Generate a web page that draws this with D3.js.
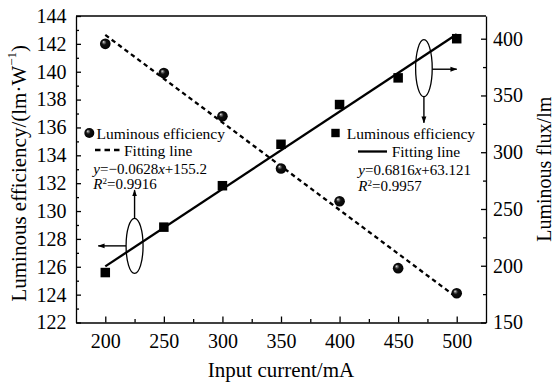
<!DOCTYPE html>
<html>
<head>
<meta charset="utf-8">
<script src="https://cdn.jsdelivr.net/npm/d3@7"></script>
<style>
  html, body { margin: 0; padding: 0; background: #fff; }
  svg { display: block; font-family: "Liberation Serif", "Times New Roman", serif; }
</style>
</head>
<body>
<script>
// Input current (mA) and the two measured series
const current = [200, 250, 300, 350, 400, 450, 500];
const efficiency = [142.0, 139.9, 136.8, 133.05, 130.7, 125.9, 124.1];   // lm·W⁻¹
const flux = [194, 234, 270.5, 307, 342, 365.5, 400];                    // lm

// Linear fits: [slope, intercept], R²
const effFit = [-0.0628, 155.2];
const effR2 = 0.9916;
const fluxFit = [0.6816, 63.121];
const fluxR2 = 0.9957;
const fitRange = [200, 500];

// Tick values
const xTicks = [200, 250, 300, 350, 400, 450, 500];
const xMinor = [225, 275, 325, 375, 425, 475];
const leftTicks = [122, 124, 126, 128, 130, 132, 134, 136, 138, 140, 142, 144];
const leftMinor = [123, 125, 127, 129, 131, 133, 135, 137, 139, 141, 143];
const rightTicks = [150, 200, 250, 300, 350, 400];
const rightMinor = [175, 225, 275, 325, 375];

const W = 557, H = 383;
const L = 76, R = 486, T = 16, B = 322.5;

const svg = d3.select("body").append("svg").attr("width", W).attr("height", H);

const x = d3.scaleLinear().domain([175, 525]).range([L, R]);
const yL = d3.scaleLinear().domain([122, 144]).range([B, T]);
const yR = d3.scaleLinear().domain([150, 420]).range([B, T]);

// shaded sphere marker
const defs = svg.append("defs");
const grad = defs.append("radialGradient").attr("id", "ball")
  .attr("cx", "50%").attr("cy", "50%").attr("r", "55%")
  .attr("fx", "33%").attr("fy", "30%");
grad.append("stop").attr("offset", "0%").attr("stop-color", "#ffffff");
grad.append("stop").attr("offset", "14%").attr("stop-color", "#888");
grad.append("stop").attr("offset", "40%").attr("stop-color", "#111");
grad.append("stop").attr("offset", "100%").attr("stop-color", "#000");

const arrow = defs.append("marker").attr("id", "arrow")
  .attr("viewBox", "0 0 10 10").attr("refX", 9).attr("refY", 5)
  .attr("markerWidth", 7).attr("markerHeight", 7)
  .attr("markerUnits", "userSpaceOnUse").attr("orient", "auto");
arrow.append("path").attr("d", "M0,1.5 L10,5 L0,8.5 Z").attr("fill", "#000");

const tickFont = "20px";
const axisStroke = 1.3;

function styleAxis(g) {
  g.selectAll("path.domain").attr("stroke", "#000").attr("stroke-width", axisStroke);
  g.selectAll(".tick line").attr("stroke", "#000").attr("stroke-width", axisStroke);
  g.selectAll(".tick text").attr("fill", "#000").style("font-size", tickFont)
    .style("font-family", '"Liberation Serif", "Times New Roman", serif');
}

// bottom axis
svg.append("g").attr("transform", `translate(0,${B})`)
  .call(d3.axisBottom(x).tickValues(xTicks).tickSizeInner(-6).tickSizeOuter(0).tickPadding(11))
  .call(styleAxis);
svg.append("g").attr("transform", `translate(0,${B})`)
  .call(d3.axisBottom(x).tickValues(xMinor).tickSizeInner(-3.5).tickSizeOuter(0).tickFormat(""))
  .call(g => g.select("path.domain").remove())
  .call(styleAxis);

// left axis
svg.append("g").attr("transform", `translate(${L},0)`)
  .call(d3.axisLeft(yL).tickValues(leftTicks).tickSizeInner(-5).tickSizeOuter(0).tickPadding(9.5))
  .call(styleAxis);
svg.append("g").attr("transform", `translate(${L},0)`)
  .call(d3.axisLeft(yL).tickValues(leftMinor).tickSizeInner(-3).tickSizeOuter(0).tickFormat(""))
  .call(g => g.select("path.domain").remove())
  .call(styleAxis);

// right axis
svg.append("g").attr("transform", `translate(${R},0)`)
  .call(d3.axisRight(yR).tickValues(rightTicks).tickSizeInner(-5).tickSizeOuter(0).tickPadding(7))
  .call(styleAxis);
svg.append("g").attr("transform", `translate(${R},0)`)
  .call(d3.axisRight(yR).tickValues(rightMinor).tickSizeInner(-3).tickSizeOuter(0).tickFormat(""))
  .call(g => g.select("path.domain").remove())
  .call(styleAxis);

// top frame line
svg.append("line").attr("x1", L).attr("x2", R).attr("y1", T).attr("y2", T)
  .attr("stroke", "#000").attr("stroke-width", axisStroke);

// axis titles
svg.append("text").attr("x", (L + R) / 2).attr("y", 377)
  .attr("text-anchor", "middle").style("font-size", "21px").text("Input current/mA");

const lt = svg.append("text")
  .attr("transform", `translate(19,${(T + B) / 2 + 4}) rotate(-90)`)
  .attr("text-anchor", "middle").attr("dominant-baseline", "central")
  .style("font-size", "21px");
lt.append("tspan").text("Luminous efficiency/(lm·W");
lt.append("tspan").attr("baseline-shift", "super").style("font-size", "13px").text("−1");
lt.append("tspan").text(")");

svg.append("text")
  .attr("transform", `translate(544,${(T + B) / 2}) rotate(-90)`)
  .attr("text-anchor", "middle").attr("dominant-baseline", "central")
  .style("font-size", "20px").text("Luminous flux/lm");

// fitting lines
const fitLine = (coef, ys) => d3.line()
  .x(d => x(d)).y(d => ys(coef[0] * d + coef[1]));

svg.append("path").datum(fitRange)
  .attr("d", fitLine(effFit, yL))
  .attr("fill", "none").attr("stroke", "#000").attr("stroke-width", 2.3)
  .attr("stroke-dasharray", "4.5,3.5");

svg.append("path").datum(fitRange)
  .attr("d", fitLine(fluxFit, yR))
  .attr("fill", "none").attr("stroke", "#000").attr("stroke-width", 2.3);

// data markers
const sq = 9.5;
svg.append("g").selectAll("rect").data(current).join("rect")
  .attr("x", (d) => x(d) - sq / 2)
  .attr("y", (d, i) => yR(flux[i]) - sq / 2)
  .attr("width", sq).attr("height", sq).attr("fill", "#000");

svg.append("g").selectAll("circle").data(current).join("circle")
  .attr("cx", d => x(d))
  .attr("cy", (d, i) => yL(efficiency[i]))
  .attr("r", 5.3).attr("fill", "url(#ball)");

// legends
const legFont = "15.5px";
function eqText(g, xPos, yPos, coef) {
  const t = g.append("text").attr("x", xPos).attr("y", yPos).style("font-size", "15px");
  t.append("tspan").style("font-style", "italic").text("y");
  const b = coef[1];
  const a = coef[0];
  t.append("tspan").text("=" + (a < 0 ? "−" + Math.abs(a) : a));
  t.append("tspan").style("font-style", "italic").text("x");
  t.append("tspan").text("+" + b);
}
function r2Text(g, xPos, yPos, r2) {
  const t = g.append("text").attr("x", xPos).attr("y", yPos).style("font-size", "15px");
  t.append("tspan").style("font-style", "italic").text("R");
  t.append("tspan").attr("baseline-shift", "super").style("font-size", "9px").text("2");
  t.append("tspan").text("=" + r2.toFixed(4));
}

// left legend (efficiency)
const lg = svg.append("g");
lg.append("circle").attr("cx", 89.3).attr("cy", 133).attr("r", 5).attr("fill", "url(#ball)");
lg.append("text").attr("x", 96.5).attr("y", 138.5).style("font-size", legFont).text("Luminous efficiency");
lg.append("line").attr("x1", 95).attr("x2", 121).attr("y1", 150).attr("y2", 150)
  .attr("stroke", "#000").attr("stroke-width", 2.3).attr("stroke-dasharray", "5.5,4");
lg.append("text").attr("x", 124).attr("y", 155.5).style("font-size", legFont).text("Fitting line");
eqText(lg, 93.3, 173.5, effFit);
r2Text(lg, 93.3, 188.5, effR2);

// right legend (flux)
const rg = svg.append("g");
rg.append("rect").attr("x", 335.5 - 4.2).attr("y", 133 - 4.2).attr("width", 8.4).attr("height", 8.4).attr("fill", "#000");
rg.append("text").attr("x", 346.7).attr("y", 138.5).style("font-size", legFont).text("Luminous efficiency");
rg.append("line").attr("x1", 358).attr("x2", 387).attr("y1", 151.5).attr("y2", 151.5)
  .attr("stroke", "#000").attr("stroke-width", 2.3);
rg.append("text").attr("x", 391.7).attr("y", 157).style("font-size", legFont).text("Fitting line");
eqText(rg, 358.3, 175, fluxFit);
r2Text(rg, 358.3, 190.5, fluxR2);

// ellipse callouts pointing to the matching axis
function callout(cx, cy, rx, ry) {
  svg.append("ellipse").attr("cx", cx).attr("cy", cy).attr("rx", rx).attr("ry", ry)
    .attr("fill", "none").attr("stroke", "#000").attr("stroke-width", 1.3);
}
function arrowLine(x1, y1, x2, y2) {
  svg.append("line").attr("x1", x1).attr("y1", y1).attr("x2", x2).attr("y2", y2)
    .attr("stroke", "#000").attr("stroke-width", 1.4).attr("marker-end", "url(#arrow)");
}
// efficiency callout -> left axis
const c1 = [x(225), yL(127.5)];
callout(c1[0], c1[1], 8.5, 27.5);
arrowLine(c1[0] - 8.5, c1[1], x(194), c1[1]);
arrowLine(c1[0], c1[1] - 27.5, c1[0], yL(131.5));
// flux callout -> right axis
const c2 = [x(472), yR(374)];
callout(c2[0], c2[1], 8.3, 28.5);
arrowLine(c2[0] + 8.3, c2[1] + 1, x(500), c2[1] + 1);
arrowLine(c2[0], c2[1] + 28.5, c2[0], yR(326));
</script>
</body>
</html>
